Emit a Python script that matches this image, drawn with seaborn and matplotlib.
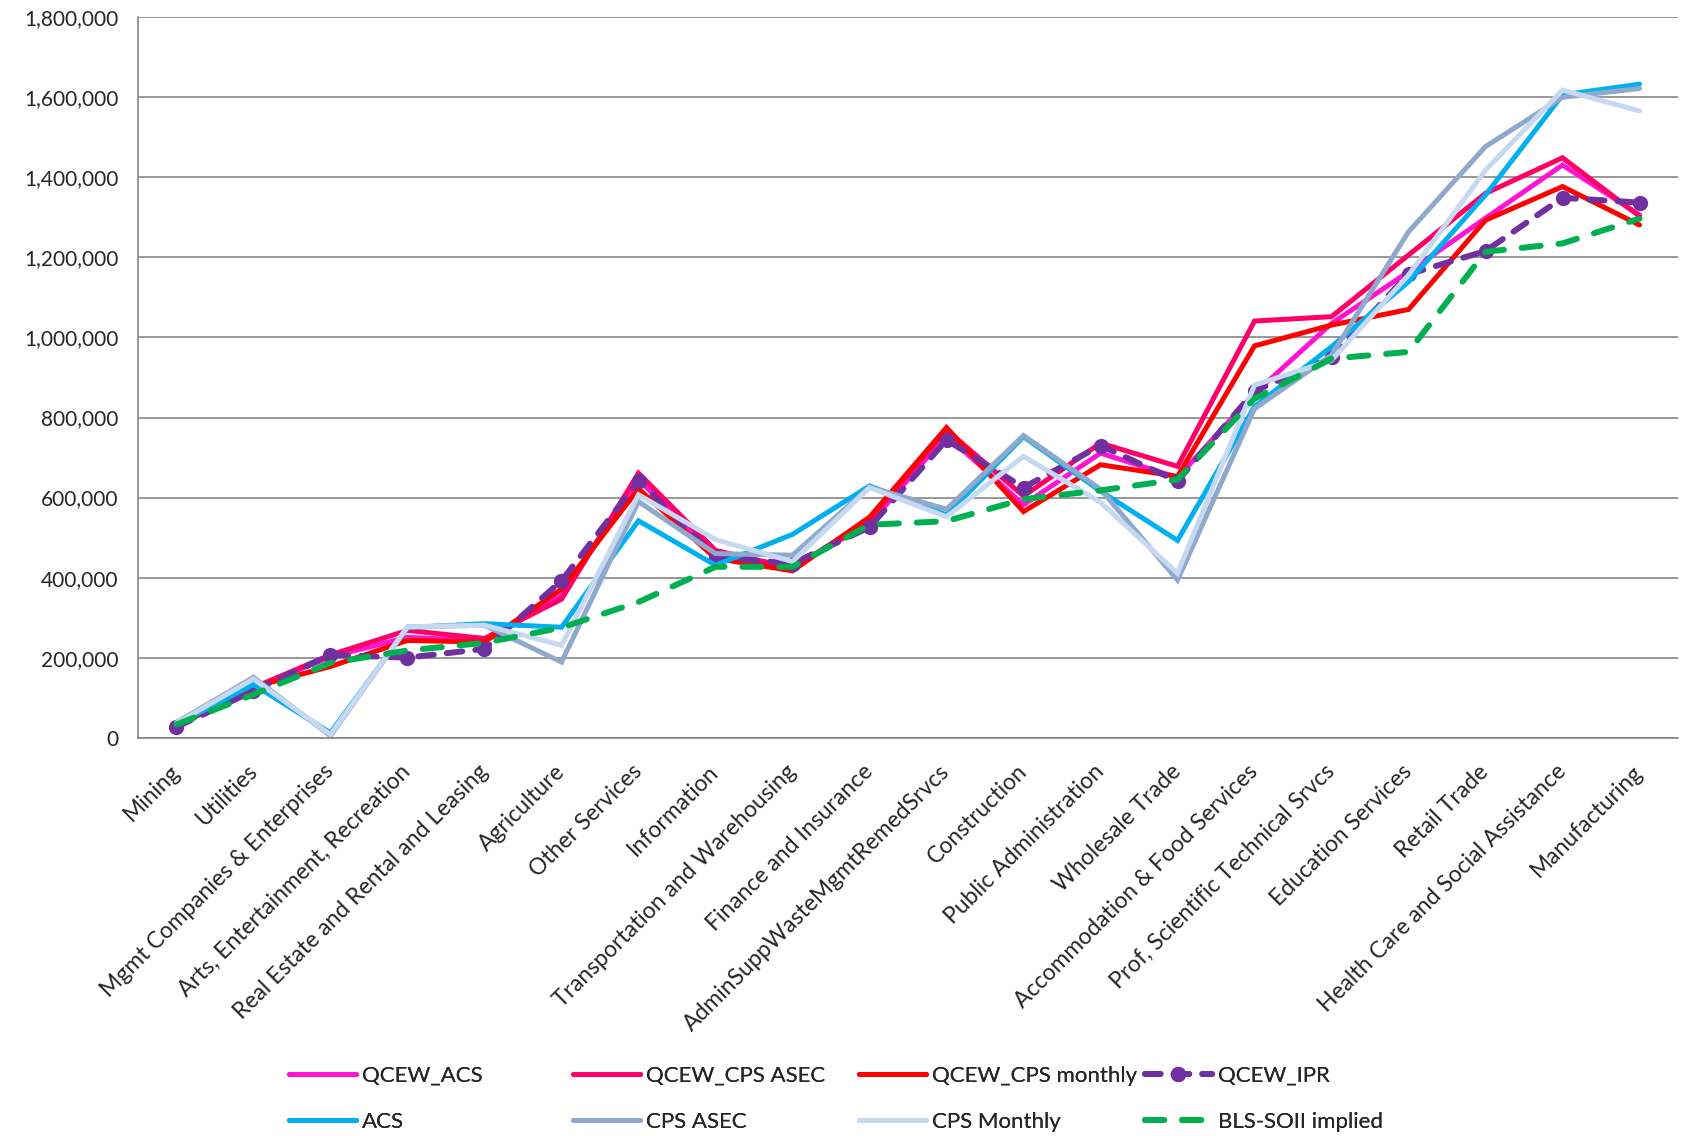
import numpy as np
import pandas as pd
import matplotlib
matplotlib.use("Agg")
import matplotlib.pyplot as plt
import seaborn as sns
from matplotlib.ticker import FuncFormatter, FixedLocator

# Industries, ordered along the x axis
industries = [
    "Mining", "Utilities", "Mgmt Companies & Enterprises",
    "Arts, Entertainment, Recreation", "Real Estate and Rental and Leasing",
    "Agriculture", "Other Services", "Information",
    "Transportation and Warehousing", "Finance and Insurance",
    "AdminSuppWasteMgmtRemedSrvcs", "Construction", "Public Administration",
    "Wholesale Trade", "Accommodation & Food Services",
    "Prof, Scientific Technical Srvcs", "Education Services", "Retail Trade",
    "Health Care and Social Assistance", "Manufacturing",
]

# Series values (persons)
qcew_acs = [30000, 125000, 202000, 251000, 242000, 355000, 645000, 460000, 428000, 534000,
            756000, 582000, 711000, 650000, 860000, 1035000, 1164000, 1298000, 1431000, 1306000]
qcew_cps_asec = [30000, 125000, 207000, 268000, 248000, 346000, 661000, 468000, 423000, 545000,
                 769000, 604000, 736000, 678000, 1041000, 1052000, 1206000, 1360000, 1449000, 1303000]
qcew_cps_monthly = [30000, 127000, 178000, 243000, 239000, 371000, 622000, 448000, 417000, 551000,
                    775000, 565000, 682000, 653000, 979000, 1031000, 1070000, 1293000, 1377000, 1281000]
qcew_ipr = [27000, 117000, 207000, 200000, 222000, 392000, 642000, 452000, 435000, 526000,
            744000, 625000, 730000, 641000, 866000, 952000, 1158000, 1216000, 1349000, 1337000]
acs = [33000, 133000, 12000, 275000, 285000, 276000, 542000, 431000, 508000, 629000,
       557000, 752000, 616000, 493000, 827000, 977000, 1139000, 1356000, 1606000, 1633000]
cps_asec = [38000, 151000, 5000, 277000, 281000, 189000, 590000, 460000, 456000, 626000,
            571000, 755000, 621000, 394000, 822000, 956000, 1264000, 1477000, 1600000, 1622000]
cps_monthly = [36000, 147000, 8000, 277000, 281000, 231000, 607000, 495000, 440000, 625000,
               552000, 703000, 588000, 411000, 881000, 943000, 1156000, 1418000, 1618000, 1566000]
bls_soii = [33000, 108000, 187000, 218000, 237000, 275000, 339000, 427000, 427000, 532000,
            541000, 596000, 618000, 645000, 847000, 947000, 964000, 1214000, 1235000, 1297000]

series_names = ["QCEW_ACS", "QCEW_CPS ASEC", "QCEW_CPS monthly", "QCEW_IPR",
                "ACS", "CPS ASEC", "CPS Monthly", "BLS-SOII implied"]
series_values = [qcew_acs, qcew_cps_asec, qcew_cps_monthly, qcew_ipr,
                 acs, cps_asec, cps_monthly, bls_soii]

colors = {
    "QCEW_ACS": "#FF14D4",
    "QCEW_CPS ASEC": "#FF0066",
    "QCEW_CPS monthly": "#FF0000",
    "QCEW_IPR": "#7030A0",
    "ACS": "#00B0F0",
    "CPS ASEC": "#8FA9CC",
    "CPS Monthly": "#C6D9F1",
    "BLS-SOII implied": "#00B050",
}

wide = pd.DataFrame({"industry": industries})
for name, vals in zip(series_names, series_values):
    wide[name] = vals
long = wide.melt(id_vars="industry", var_name="series", value_name="value")

sns.set_style("white")
plt.rcParams["font.family"] = ["Lato", "DejaVu Sans"]
plt.rcParams["font.size"] = 15

fig = plt.figure(figsize=(16.89, 11.36), dpi=100)
ax = fig.add_axes([0.0817, 0.3506, 0.9118, 0.6342])

grid_col = "#868686"
ax.set_axisbelow(True)
ax.yaxis.grid(True, color=grid_col, linewidth=1.2)

handles = {}
for name in series_names:
    sub = long[long["series"] == name]
    kw = dict(color=colors[name], linewidth=3.6, solid_capstyle="round",
              solid_joinstyle="miter")
    if name == "QCEW_IPR":
        kw.update(linewidth=4.3, linestyle=(0, (2.6, 2.2)), dash_capstyle="round",
                  marker="o", markersize=11, markeredgewidth=0)
    elif name == "BLS-SOII implied":
        kw.update(linewidth=4.3, linestyle=(0, (3.2, 3.0)), dash_capstyle="round")
    sns.lineplot(data=sub, x="industry", y="value", sort=False, ax=ax,
                 label=name, **kw)
    handles[name] = ax.get_lines()[-1]

if ax.get_legend() is not None:
    ax.get_legend().remove()

# Axes, ticks, spines
ax.set_xlim(-0.5, len(industries) - 0.5)
ax.set_ylim(0, 1800000)
ax.yaxis.set_major_locator(FixedLocator(np.arange(0, 1800001, 200000)))
ax.yaxis.set_major_formatter(FuncFormatter(lambda v, p: f"{int(v):,}"))
ax.set_xlabel("")
ax.set_ylabel("")

ax.set_xticks(np.arange(len(industries)))
ax.set_xticks(np.arange(-0.5, len(industries), 1.0), minor=True)
ax.tick_params(axis="x", which="major", length=0, pad=22)
ax.tick_params(axis="x", which="minor", length=7, width=1.2, color=grid_col)
ax.tick_params(axis="y", which="major", length=8, width=1.2, color=grid_col,
               labelsize=15, pad=6)
ax.set_xticklabels(industries, rotation=45, ha="right", va="center",
                   rotation_mode="anchor", fontsize=16.5)

for side in ["top", "right"]:
    ax.spines[side].set_visible(False)
for side in ["left", "bottom"]:
    ax.spines[side].set_color(grid_col)
    ax.spines[side].set_linewidth(1.2)

# Legend: four fixed-width columns, two rows
col_x = [0.1711, 0.3393, 0.5086, 0.6779]
for c in range(4):
    names = [series_names[c], series_names[c + 4]]
    leg = fig.legend([handles[n] for n in names], names, loc="upper left",
                     bbox_to_anchor=(col_x[c], 0.062), frameon=False,
                     borderpad=0, borderaxespad=0, handlelength=3.0,
                     handletextpad=0.3, labelspacing=1.2, fontsize=16)
    fig.add_artist(leg)

fig.savefig("out.png", dpi=100)
